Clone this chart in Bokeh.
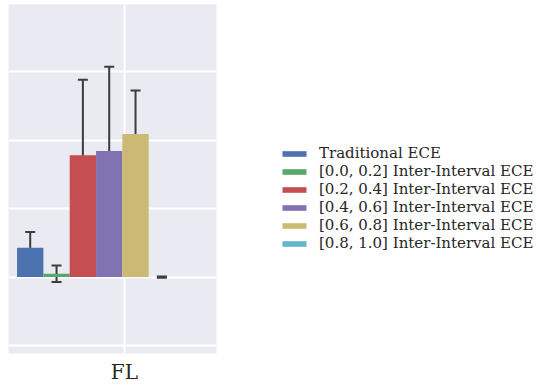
from bokeh.plotting import figure
from bokeh.models import (ColumnDataSource, Range1d, FixedTicker, Whisker, TeeHead,
                          Legend, LegendItem)
from bokeh.embed import file_html
from bokeh.resources import INLINE

# ---- data ----
category = "FL"
series = ["Traditional ECE",
          "[0.0, 0.2] Inter-Interval ECE",
          "[0.2, 0.4] Inter-Interval ECE",
          "[0.4, 0.6] Inter-Interval ECE",
          "[0.6, 0.8] Inter-Interval ECE",
          "[0.8, 1.0] Inter-Interval ECE"]
means = [0.043, 0.005, 0.178, 0.184, 0.209, 0.0]
errors = [0.023, 0.012, 0.110, 0.123, 0.0635, 0.0008]
colors = ["#4C72B0", "#55A868", "#C44E52", "#8172B2", "#CCB974", "#64B5CD"]
y_grid = [-0.1, 0.0, 0.1, 0.2, 0.3]

# ---- layout helpers ----
bar_w = 1.0
group_offset = -1.075
n = len(series)
xs = [group_offset + (i - (n - 1) / 2) * bar_w for i in range(n)]

src = ColumnDataSource(dict(
    x=xs, top=means, color=colors, name=series,
    upper=[m + e for m, e in zip(means, errors)],
    lower=[m - e for m, e in zip(means, errors)],
))

p = figure(frame_width=208, frame_height=349, output_backend="svg",
           toolbar_location=None, x_range=Range1d(-4.4, 3.5),
           y_range=Range1d(-0.1115, 0.398),
           min_border_left=8, min_border_top=4, min_border_right=0,
           min_border_bottom=0)
p.background_fill_color = "#EAEAF2"
p.border_fill_color = "white"
p.outline_line_color = None

# grid
p.ygrid.ticker = FixedTicker(ticks=y_grid)
p.ygrid.grid_line_color = "white"
p.ygrid.grid_line_width = 2
p.xgrid.ticker = FixedTicker(ticks=[0])
p.xgrid.grid_line_color = "white"
p.xgrid.grid_line_width = 2
p.yaxis.visible = False

p.xaxis.ticker = FixedTicker(ticks=[0])
p.xaxis.major_label_overrides = {0: category}
p.xaxis.axis_line_color = None
p.xaxis.major_tick_line_color = None
p.xaxis.minor_tick_line_color = None
p.xaxis.major_label_text_font = "DejaVu Serif"
p.xaxis.major_label_text_font_size = "20px"
p.xaxis.major_label_text_color = "#262626"
p.xaxis.major_label_standoff = 0

items = []
for i in range(n):
    r = p.vbar(x=xs[i], top=means[i], bottom=0, width=bar_w,
               fill_color=colors[i], line_color=None)
    items.append(LegendItem(label=series[i], renderers=[r]))

wh = Whisker(source=src, base="x", upper="upper", lower="lower",
             line_color="#3c3c3c", line_width=2,
             upper_head=TeeHead(size=10, line_color="#3c3c3c", line_width=2),
             lower_head=TeeHead(size=10, line_color="#3c3c3c", line_width=2))
p.add_layout(wh)

legend = Legend(items=items, location=(63, 101), orientation="vertical",
                glyph_width=30, glyph_height=7, label_height=18, spacing=0,
                label_standoff=10, padding=0, margin=0,
                border_line_color=None, background_fill_alpha=0,
                label_text_font="DejaVu Serif", label_text_font_size="15px",
                label_text_color="#262626")
p.add_layout(legend, "right")
p.min_border_right = 0

open("out.html", "w").write(file_html(p, INLINE))
